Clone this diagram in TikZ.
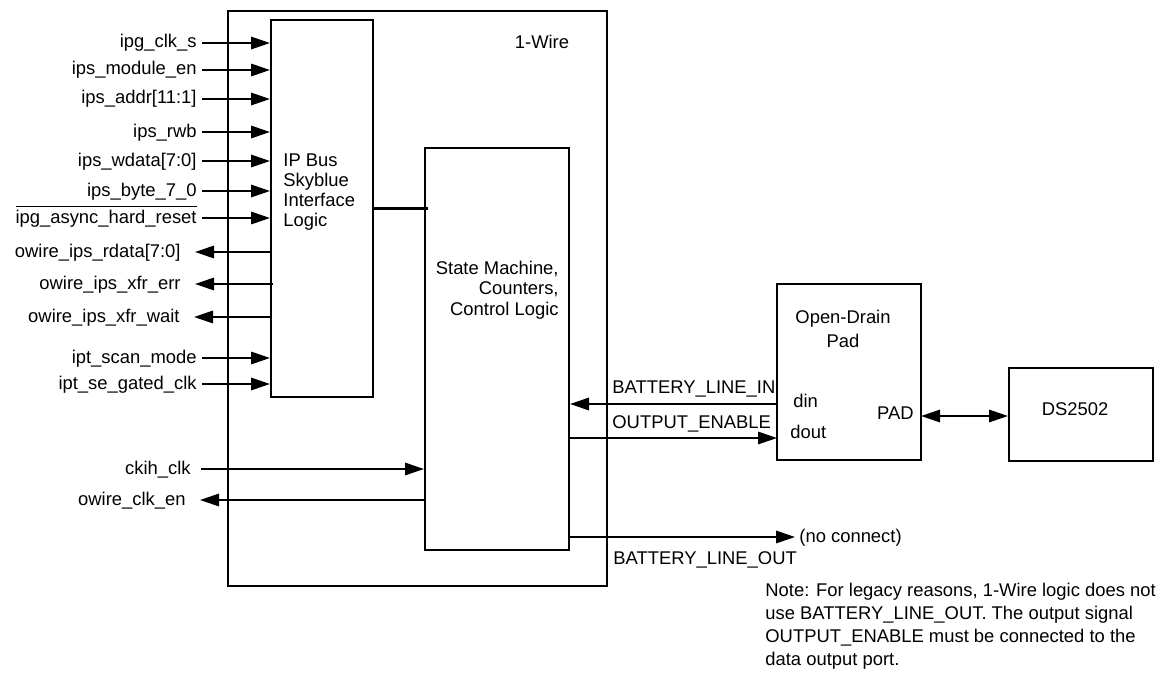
\documentclass[tikz,border=0pt]{standalone}
\usepackage{fontspec}
\setmainfont{Liberation Sans}
\usetikzlibrary{arrows.meta,fit}

\begin{document}
\begin{tikzpicture}[
    x=0.5pt,
    y=-0.5pt,
    font=\fontsize{9.2}{10}\selectfont,
    >={Triangle[length=9.5pt,width=6.2pt]},
    block/.style={
        draw,
        line width=1pt,
        inner sep=0pt
    },
    tag/.style={
        inner sep=0pt
    },
    sigtext/.style={
        anchor=east,
        inner xsep=2.5pt,
        inner ysep=0pt,
        text height=6.5pt,
        text depth=1.5pt
    },
    outtext/.style={
        sigtext,
        inner xsep=7pt
    },
    arrow/.style={
        ->,
        line width=1pt
    },
    bus/.style={
        line width=1.5pt
    }
]

\useasboundingbox (0,0) rectangle (1159,674);

\node[block, fit={(228,11) (607,586)}] (wire) {};
\node[block, fit={(271,20) (373,397)}] (ipbus) {};
\node[block, fit={(425,148) (569,550)}] (sm) {};
\node[block, fit={(777,284) (921,460)}] (pad) {};
\node[block, fit={(1009,368) (1153,461)}] (ds) {};

\node[tag, anchor=base] (wiretext) at (542,49) {1-Wire};
\node[tag, anchor=base west, align=left, font=\fontsize{9.2}{9.85}\selectfont] (iptext) at (283,226) {IP Bus\\Skyblue\\Interface\\Logic};
\node[tag, anchor=base east, align=right, font=\fontsize{9.2}{10.25}\selectfont] (smtext) at (559,315) {State Machine,\\Counters,\\Control Logic};
\node[tag, anchor=base, align=center, font=\fontsize{9.2}{11.6}\selectfont] (padtext) at (843,347) {Open-Drain\\Pad};
\node[tag, anchor=base] (dstext) at (1075,415) {DS2502};

\node[sigtext] (clks) at (202,43) {ipg\_clk\_s};
\node[sigtext] (moden) at (202,70) {ips\_module\_en};
\node[sigtext] (addr) at (202,99) {ips\_addr[11:1]};
\node[sigtext] (rwb) at (202,132) {ips\_rwb};
\node[sigtext] (wdata) at (202,161) {ips\_wdata[7:0]};
\node[sigtext] (byte) at (202,191) {ips\_byte\_7\_0};
\node[sigtext] (reset) at (202,218) {$\overline{\mbox{ipg\_async\_hard\_reset}}$};
\node[outtext] (rdata) at (195,252) {owire\_ips\_rdata[7:0]};
\node[outtext] (xfrerr) at (195,284) {owire\_ips\_xfr\_err};
\node[outtext] (xfrwait) at (194,317) {owire\_ips\_xfr\_wait};
\node[sigtext] (scan) at (202,358) {ipt\_scan\_mode};
\node[sigtext] (segclk) at (202,384) {ipt\_se\_gated\_clk};
\node[sigtext, inner xsep=5pt] (ckih) at (201,469) {ckih\_clk};
\node[outtext] (clken) at (200,500) {owire\_clk\_en};

\coordinate (pin) at (777,404);
\coordinate (pout) at (777,438);
\coordinate (ppad) at (921,416);

\node[tag, anchor=base west] (battin) at (612,393) {BATTERY\_LINE\_IN};
\node[tag, anchor=base west] (outen) at (612,428) {OUTPUT\_ENABLE};
\node[tag, anchor=base west] (din) at (793,407) {din};
\node[tag, anchor=base west] (dout) at (790,438) {dout};
\node[tag, anchor=base east] (padport) at (914,419) {PAD};
\node[sigtext, anchor=west, inner xsep=2pt] (noconn) at (795,537) {(no connect)};
\node[tag, anchor=base west] (battout) at (613,564) {BATTERY\_LINE\_OUT};
\node[tag, anchor=base west, align=left, font=\fontsize{9.2}{11.35}\selectfont] (note) at (765,665) {Note: For legacy reasons, 1-Wire logic does not\\use BATTERY\_LINE\_OUT. The output signal\\OUTPUT\_ENABLE must be connected to the\\data output port.};

\draw[arrow] (clks.east) -- (clks.east -| ipbus.west);
\draw[arrow] (moden.east) -- (moden.east -| ipbus.west);
\draw[arrow] (addr.east) -- (addr.east -| ipbus.west);
\draw[arrow] (rwb.east) -- (rwb.east -| ipbus.west);
\draw[arrow] (wdata.east) -- (wdata.east -| ipbus.west);
\draw[arrow] (byte.east) -- (byte.east -| ipbus.west);
\draw[arrow] (reset.east) -- (reset.east -| ipbus.west);
\draw[arrow] (ipbus.west |- rdata.east) -- (rdata.east);
\draw[arrow, shorten <=-1.5pt] (ipbus.west |- xfrerr.east) -- (xfrerr.east);
\draw[arrow] (ipbus.west |- xfrwait.east) -- (xfrwait.east);
\draw[arrow] (scan.east) -- (scan.east -| ipbus.west);
\draw[arrow] (segclk.east) -- (segclk.east -| ipbus.west);

\draw[bus, shorten >=-2pt] (ipbus.east) -- (ipbus.east -| sm.west);

\draw[arrow] (ckih.east) -- (ckih.east -| sm.west);
\draw[arrow] (sm.west |- clken.east) -- (clken.east);

\draw[arrow] (pin) -- (pin -| sm.east);
\draw[arrow] (pout -| sm.east) -- (pout);
\draw[arrow, <->] (ppad) -- (ppad -| ds.west);
\draw[arrow] (sm.east |- noconn.west) -- (noconn.west);

\end{tikzpicture}
\end{document}
